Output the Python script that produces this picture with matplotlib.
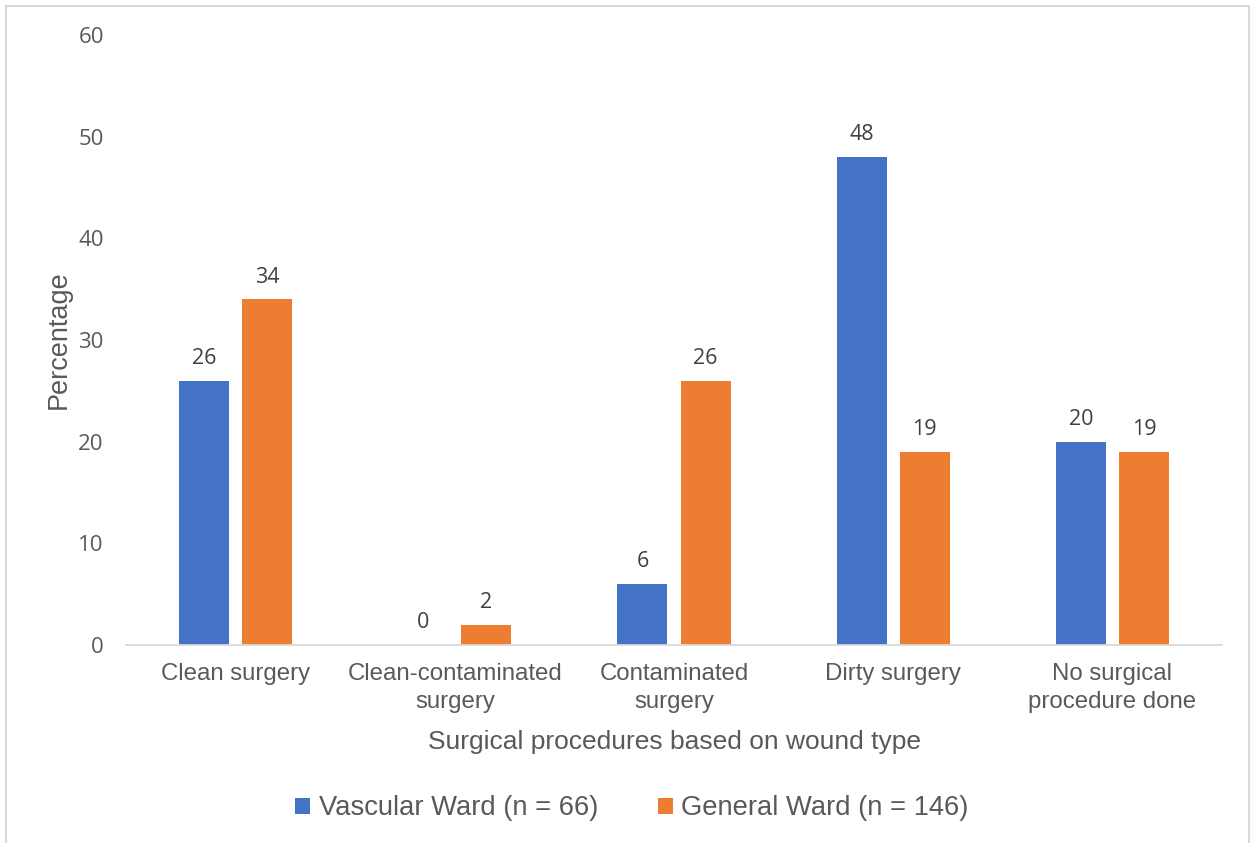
import numpy as np
import matplotlib
matplotlib.use("Agg")
import matplotlib.pyplot as plt
from matplotlib.patches import Rectangle

categories = ["Clean surgery", "Clean-contaminated\nsurgery", "Contaminated\nsurgery",
              "Dirty surgery", "No surgical\nprocedure done"]
vascular = [26, 0, 6, 48, 20]
general = [34, 2, 26, 19, 19]
series_names = ["Vascular Ward (n = 66)", "General Ward (n = 146)"]
y_ticks = [0, 10, 20, 30, 40, 50, 60]

BLUE = "#4472C4"
ORANGE = "#ED7D31"
TEXT_GRAY = "#595959"
LABEL_GRAY = "#404040"
SANS = ["Liberation Sans", "DejaVu Sans"]
NUM = ["Open Sans", "DejaVu Sans"]

fig = plt.figure(figsize=(12.54, 8.43), dpi=100)
ax = fig.add_axes([0.1005, 0.2349, 0.874, 0.7236])

x = np.arange(len(categories))
width = 0.228
offset = 0.144
b1 = ax.bar(x - offset, vascular, width, color=BLUE, label=series_names[0])
b2 = ax.bar(x + offset, general, width, color=ORANGE, label=series_names[1])

for bars, vals in ((b1, vascular), (b2, general)):
    for rect, v in zip(bars, vals):
        ax.annotate(f"{v}", (rect.get_x() + rect.get_width() / 2, v),
                    xytext=(0, 8.5), textcoords="offset points",
                    ha="center", va="bottom", fontsize=15.5,
                    family=NUM, color=LABEL_GRAY)

ax.set_xlim(-0.5, len(categories) - 0.5)
ax.set_ylim(0, 60)
ax.set_yticks(y_ticks)
ax.set_yticklabels([str(t) for t in y_ticks], family=NUM, fontsize=16, color=TEXT_GRAY)
ax.set_xticks(x)
ax.set_xticklabels(categories, family=SANS, fontsize=17.3, color=TEXT_GRAY, linespacing=1.35)
ax.tick_params(axis="y", length=0, pad=16)
ax.tick_params(axis="x", length=0, pad=13)

for side in ("top", "right", "left"):
    ax.spines[side].set_visible(False)
ax.spines["bottom"].set_color("#d9d9d9")
ax.spines["bottom"].set_linewidth(1.3)

ax.set_ylabel("Percentage", family=SANS, fontsize=19.5, color=TEXT_GRAY, labelpad=5)
ax.set_xlabel("Surgical procedures based on wound type", family=SANS,
              fontsize=19, color=TEXT_GRAY, labelpad=12)

leg = fig.legend(handles=[b1, b2], labels=series_names, loc="center",
                 bbox_to_anchor=(0.504, 0.041), ncol=2, frameon=False,
                 prop={"family": SANS, "size": 19.7}, handlelength=0.55,
                 handleheight=0.55, handletextpad=0.3, columnspacing=2.2)
for t in leg.get_texts():
    t.set_color(TEXT_GRAY)

# chart border
fig.patches.append(Rectangle((6 / 1254, -0.02), 1243 / 1254, 1.02 - 6 / 843,
                             transform=fig.transFigure, fill=False,
                             edgecolor="#d9d9d9", linewidth=1.5))

fig.savefig("out.png", dpi=100, facecolor="white")
